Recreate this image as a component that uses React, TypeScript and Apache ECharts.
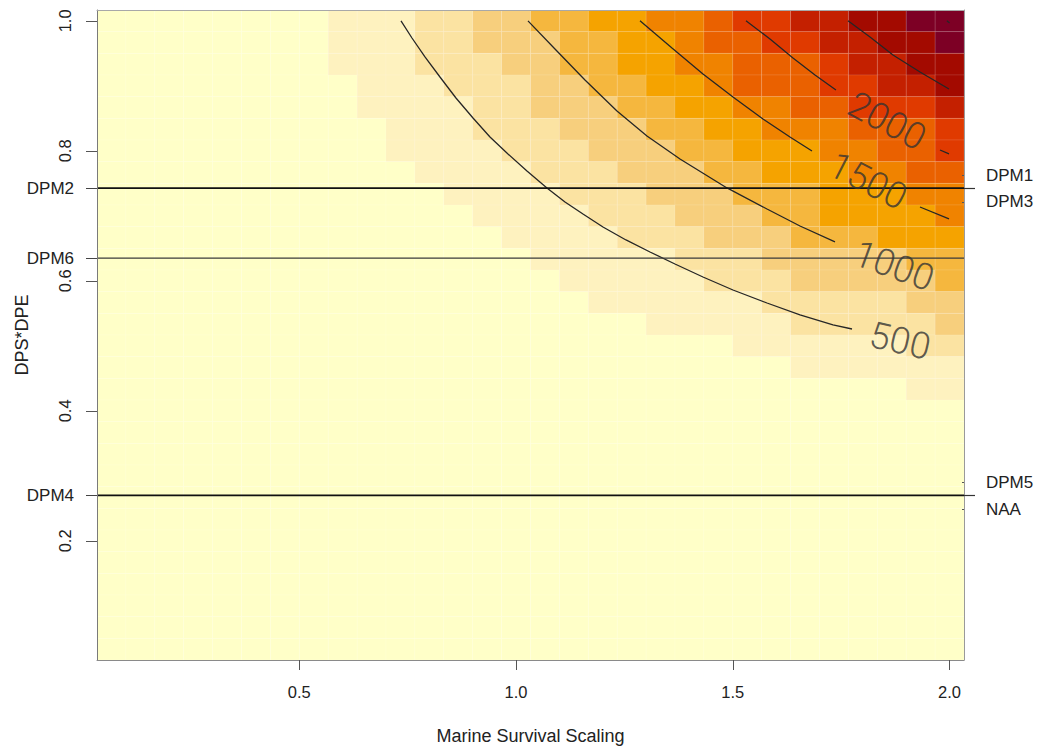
import React, { useEffect, useRef } from 'react';
import * as echarts from 'echarts';

// ---------- data ----------
const xCenters = [0.0667, 0.1333, 0.2, 0.2667, 0.3333, 0.4, 0.4667, 0.5333, 0.6, 0.6667, 0.7333, 0.8, 0.8667, 0.9333, 1.0, 1.0667, 1.1333, 1.2, 1.2667, 1.3333, 1.4, 1.4667, 1.5333, 1.6, 1.6667, 1.7333, 1.8, 1.8667, 1.9333, 2.0];
const yCenters = [1.0, 0.9667, 0.9333, 0.9, 0.8667, 0.8333, 0.8, 0.7667, 0.7333, 0.7, 0.6667, 0.6333, 0.6, 0.5667, 0.5333, 0.5, 0.4667, 0.4333, 0.4, 0.3667, 0.3333, 0.3, 0.2667, 0.2333, 0.2, 0.1667, 0.1333, 0.1, 0.0667, 0.0333];

// colour level of every cell (row = yCenters index, column = xCenters index)
const heatRows: number[][] = [
  [0,0,0,0,0,0,0,0,1,1,1,2,2,3,3,4,4,5,5,6,6,7,8,8,9,9,10,10,11,11],
  [0,0,0,0,0,0,0,0,1,1,1,2,2,3,3,3,4,4,5,5,6,7,7,8,8,9,9,10,10,11],
  [0,0,0,0,0,0,0,0,1,1,1,2,2,2,3,3,4,4,5,5,6,6,7,7,7,8,9,9,10,10],
  [0,0,0,0,0,0,0,0,0,1,1,1,2,2,2,3,3,4,4,5,5,6,7,7,7,8,8,9,9,10],
  [0,0,0,0,0,0,0,0,0,1,1,1,1,2,2,3,3,3,4,4,5,5,6,6,7,7,8,8,8,9],
  [0,0,0,0,0,0,0,0,0,0,1,1,1,2,2,2,3,3,3,4,4,5,5,6,6,6,7,7,7,8],
  [0,0,0,0,0,0,0,0,0,0,1,1,1,1,2,2,2,3,3,3,4,4,5,5,5,6,6,7,7,8],
  [0,0,0,0,0,0,0,0,0,0,0,1,1,1,1,2,2,2,3,3,3,4,4,5,5,5,6,6,7,7],
  [0,0,0,0,0,0,0,0,0,0,0,0,1,1,1,1,2,2,2,3,3,3,4,4,4,5,5,5,6,6],
  [0,0,0,0,0,0,0,0,0,0,0,0,0,1,1,1,1,2,2,2,3,3,3,4,4,5,5,5,5,6],
  [0,0,0,0,0,0,0,0,0,0,0,0,0,0,1,1,1,1,2,2,2,3,3,3,4,4,4,5,5,5],
  [0,0,0,0,0,0,0,0,0,0,0,0,0,0,0,1,1,1,1,1,2,2,2,3,3,3,3,3,4,4],
  [0,0,0,0,0,0,0,0,0,0,0,0,0,0,0,0,1,1,1,1,1,2,2,2,3,3,3,3,3,4],
  [0,0,0,0,0,0,0,0,0,0,0,0,0,0,0,0,0,1,1,1,1,1,1,2,2,2,2,2,3,3],
  [0,0,0,0,0,0,0,0,0,0,0,0,0,0,0,0,0,0,0,1,1,1,1,1,2,2,2,2,2,3],
  [0,0,0,0,0,0,0,0,0,0,0,0,0,0,0,0,0,0,0,0,0,0,1,1,1,1,1,1,2,2],
  [0,0,0,0,0,0,0,0,0,0,0,0,0,0,0,0,0,0,0,0,0,0,0,0,1,1,1,1,1,1],
  [0,0,0,0,0,0,0,0,0,0,0,0,0,0,0,0,0,0,0,0,0,0,0,0,0,0,0,0,1,1],
  [0,0,0,0,0,0,0,0,0,0,0,0,0,0,0,0,0,0,0,0,0,0,0,0,0,0,0,0,0,0],
  [0,0,0,0,0,0,0,0,0,0,0,0,0,0,0,0,0,0,0,0,0,0,0,0,0,0,0,0,0,0],
  [0,0,0,0,0,0,0,0,0,0,0,0,0,0,0,0,0,0,0,0,0,0,0,0,0,0,0,0,0,0],
  [0,0,0,0,0,0,0,0,0,0,0,0,0,0,0,0,0,0,0,0,0,0,0,0,0,0,0,0,0,0],
  [0,0,0,0,0,0,0,0,0,0,0,0,0,0,0,0,0,0,0,0,0,0,0,0,0,0,0,0,0,0],
  [0,0,0,0,0,0,0,0,0,0,0,0,0,0,0,0,0,0,0,0,0,0,0,0,0,0,0,0,0,0],
  [0,0,0,0,0,0,0,0,0,0,0,0,0,0,0,0,0,0,0,0,0,0,0,0,0,0,0,0,0,0],
  [0,0,0,0,0,0,0,0,0,0,0,0,0,0,0,0,0,0,0,0,0,0,0,0,0,0,0,0,0,0],
  [0,0,0,0,0,0,0,0,0,0,0,0,0,0,0,0,0,0,0,0,0,0,0,0,0,0,0,0,0,0],
  [0,0,0,0,0,0,0,0,0,0,0,0,0,0,0,0,0,0,0,0,0,0,0,0,0,0,0,0,0,0],
  [0,0,0,0,0,0,0,0,0,0,0,0,0,0,0,0,0,0,0,0,0,0,0,0,0,0,0,0,0,0],
  [0,0,0,0,0,0,0,0,0,0,0,0,0,0,0,0,0,0,0,0,0,0,0,0,0,0,0,0,0,0],
];

const levelColors = ['#FFFFC8', '#FEF2BF', '#FBE3A2', '#F7CF7D', '#F5B73E', '#F5A300', '#F08300', '#EA6100', '#E03A00', '#C42000', '#A30A00', '#7D0025'];

// contour lines [x, y]
const contour500 = [[0.7346, 1.0], [0.7599, 0.9736], [0.7899, 0.9444], [0.8245, 0.9136], [0.8614, 0.8813], [0.9007, 0.8505], [0.9399, 0.8213], [0.9814, 0.7952], [1.0252, 0.769], [1.0713, 0.7429], [1.1129, 0.7213], [1.1544, 0.7029], [1.2005, 0.6829], [1.2536, 0.6629], [1.309, 0.6444], [1.3666, 0.6259], [1.4312, 0.6059], [1.5004, 0.5859], [1.5789, 0.5659], [1.655, 0.5475], [1.7311, 0.5321], [1.775, 0.5259]];
const contour1000 = [[1.0275, 1.0], [1.0898, 0.9567], [1.159, 0.909], [1.2328, 0.8613], [1.302, 0.8229], [1.3782, 0.7875], [1.4866, 0.7429], [1.5789, 0.7105], [1.655, 0.6844], [1.7357, 0.6598]];
const contour1500 = [[1.2859, 1.0], [1.3597, 0.9582], [1.4312, 0.9182], [1.5004, 0.8829], [1.5696, 0.849], [1.6319, 0.8213], [1.6827, 0.7998]];
const contour1500tail = [[1.9318, 0.7136], [1.9987, 0.6952]];
const contour2000 = [[1.5304, 1.0], [1.5858, 0.9721], [1.6388, 0.9429], [1.6896, 0.9167], [1.738, 0.8936]];
const contour2000tail = [[1.978, 0.8013], [1.9987, 0.7952]];
const contour2500 = [[1.7657, 1.0], [1.8165, 0.9752], [1.8695, 0.9475], [1.9318, 0.9213], [1.9987, 0.8952]];
const contour3000 = [[1.994, 1.0], [2.0, 0.9965]];

const contourLabels = ['500', '1000', '1500', '2000'];
const contourLabelX = [1.8857, 1.8718, 1.8118, 1.8557];
const contourLabelY = [0.5075, 0.6229, 0.7536, 0.8459];
const contourLabelAngle = [-13, -20, -27, -28];

const xTickValues = [0.5, 1.0, 1.5, 2.0];
const yTickValues = [0.2, 0.4, 0.6, 0.8, 1.0];

const leftRefNames = ['DPM2', 'DPM6', 'DPM4'];
const leftRefValues = [0.7426, 0.635, 0.270];
const rightRefNames = ['DPM1', 'DPM3', 'DPM5', 'NAA'];
const rightRefValues = [0.7426, 0.7426, 0.270, 0.270];

const X_MIN = 1 / 30;
const X_MAX = 2 + 1 / 30;
const Y_MIN = 1 / 60;
const Y_MAX = 1 + 1 / 60;
const HALF_W = 1 / 30;
const HALF_H = 1 / 60;
const RIGHT_LABEL_OFFSET = [0.0197, -0.0211, 0.0197, -0.0211];

export default function App() {
  const ref = useRef<HTMLDivElement>(null);

  useEffect(() => {
    const chart = echarts.init(ref.current!, null, { renderer: 'svg' });

    const cells: number[][] = [];
    heatRows.forEach((row, r) => {
      row.forEach((lv, c) => {
        cells.push([xCenters[c], yCenters[r], lv]);
      });
    });

    const textColor = '#222';
    const font = 'Liberation Sans, Arial, sans-serif';

    const rightLabelPos = rightRefValues.map((v, i) => v + RIGHT_LABEL_OFFSET[i]);
    const nearestName = (v: number, vals: number[], names: string[]) => {
      let best = 0;
      vals.forEach((x, i) => {
        if (Math.abs(x - v) < Math.abs(vals[best] - v)) best = i;
      });
      return names[best];
    };

    const contourStyle = { color: '#262626', width: 1.3 };
    const contourSeries = [contour500, contour1000, contour1500, contour1500tail, contour2000, contour2000tail, contour2500, contour3000].map((d) => ({
      type: 'line',
      data: d,
      symbol: 'none',
      smooth: false,
      silent: true,
      z: 5,
      lineStyle: contourStyle,
    }));

    const refSeries = leftRefValues.map((v) => ({
      type: 'line',
      data: [[X_MIN, v], [X_MAX, v]],
      symbol: 'none',
      silent: true,
      z: 6,
      lineStyle: { color: rightRefValues.includes(v) ? '#111' : '#3a3a3a', width: rightRefValues.includes(v) ? 1.8 : 1.1 },
    }));

    const option: any = {
      animation: false,
      backgroundColor: '#ffffff',
      textStyle: { fontFamily: font },
      grid: { left: 97, right: 73, top: 10, bottom: 89, containLabel: false, outerBoundsMode: 'none' },
      xAxis: [
        {
          type: 'value', position: 'bottom', min: X_MIN, max: X_MAX, z: 10,
          axisLine: { show: true, onZero: false, lineStyle: { color: '#8a8a8a', width: 1 } },
          axisTick: { show: true, customValues: xTickValues, length: 10, lineStyle: { color: '#555' } },
          axisLabel: { show: true, customValues: xTickValues, formatter: (v: number) => v.toFixed(1), fontSize: 16.5, color: textColor, margin: 23, fontFamily: font },
          splitLine: { show: false },
          name: 'Marine Survival Scaling', nameLocation: 'middle', nameGap: 67,
          nameTextStyle: { fontSize: 18, color: textColor, fontFamily: font },
        },
        {
          type: 'value', position: 'top', min: X_MIN, max: X_MAX, z: 10,
          axisLine: { show: true, onZero: false, lineStyle: { color: '#a8a8a8', width: 1 } },
          axisTick: { show: false }, axisLabel: { show: false }, splitLine: { show: false },
        },
      ],
      yAxis: [
        {
          type: 'value', position: 'left', min: Y_MIN, max: Y_MAX, z: 10,
          axisLine: { show: true, onZero: false, lineStyle: { color: '#7a7a7a', width: 1 } },
          axisTick: { show: true, customValues: yTickValues, length: 11, lineStyle: { color: '#555' } },
          axisLabel: { show: true, customValues: yTickValues, rotate: 90, formatter: (v: number) => v.toFixed(1), fontSize: 16.5, color: textColor, margin: 24, fontFamily: font },
          splitLine: { show: false },
          name: 'DPS*DPE', nameLocation: 'middle', nameGap: 66,
          nameTextStyle: { fontSize: 18, color: textColor, fontFamily: font },
        },
        {
          type: 'value', position: 'left', min: Y_MIN, max: Y_MAX, z: 10,
          axisLine: { show: false },
          axisTick: { show: true, customValues: leftRefValues, length: 11, lineStyle: { color: '#444' } },
          axisLabel: { show: true, customValues: leftRefValues, formatter: (v: number) => nearestName(v, leftRefValues, leftRefNames), fontSize: 17, color: textColor, margin: 23, fontFamily: font },
          splitLine: { show: false },
        },
        {
          type: 'value', position: 'right', min: Y_MIN, max: Y_MAX, z: 10,
          axisLine: { show: true, onZero: false, lineStyle: { color: '#9a9a9a', width: 1 } },
          axisTick: { show: true, customValues: leftRefValues.filter((v) => rightRefValues.includes(v)), length: 11, lineStyle: { color: '#333', width: 1.2 } },
          axisLabel: { show: false }, splitLine: { show: false },
        },
        {
          type: 'value', position: 'right', min: Y_MIN, max: Y_MAX, z: 10,
          axisLine: { show: false },
          axisTick: { show: true, inside: true, customValues: rightLabelPos, length: 2, lineStyle: { color: '#555' } },
          axisLabel: { show: true, customValues: rightLabelPos, formatter: (v: number) => nearestName(v, rightLabelPos, rightRefNames), fontSize: 17, color: textColor, margin: 22, fontFamily: font },
          splitLine: { show: false },
        },
      ],
      series: [
        {
          type: 'custom',
          data: cells,
          encode: { x: 0, y: 1 },
          silent: true,
          z: 1,
          renderItem: (params: any, api: any) => {
            const x = api.value(0);
            const y = api.value(1);
            const lv = api.value(2);
            const p0 = api.coord([x - HALF_W, y + HALF_H]);
            const p1 = api.coord([x + HALF_W, y - HALF_H]);
            return {
              type: 'rect',
              shape: { x: p0[0], y: p0[1], width: p1[0] - p0[0], height: p1[1] - p0[1] },
              style: { fill: levelColors[lv], stroke: 'rgba(255,255,255,0.16)', lineWidth: 0.6 },
            };
          },
        },
        ...contourSeries,
        ...refSeries,
        {
          type: 'scatter',
          silent: true,
          z: 7,
          symbolSize: 2,
          itemStyle: { color: 'rgba(0,0,0,0)' },
          data: contourLabels.map((name, i) => ({
            name,
            value: [contourLabelX[i], contourLabelY[i]],
            label: { rotate: contourLabelAngle[i] },
          })),
          label: {
            show: true, position: 'inside', formatter: '{b}', fontSize: 37,
            fontWeight: 300,
            color: '#333333', fontFamily: 'Roboto, Liberation Sans, sans-serif',
          },
        },
      ],
    };

    chart.setOption(option);
    return () => chart.dispose();
  }, []);

  return (
    <div
      ref={ref}
      style={{ position: 'fixed', left: 0, top: 0, width: 1037, height: 749, background: '#fff' }}
    />
  );
}
